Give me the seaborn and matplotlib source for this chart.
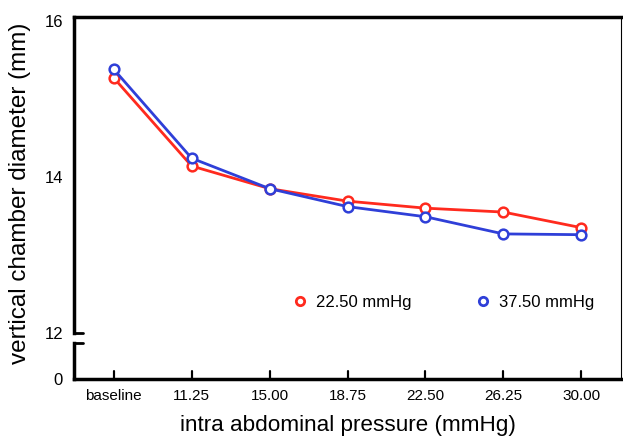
import pandas as pd
import matplotlib.pyplot as plt
import matplotlib
import seaborn as sns
from matplotlib.lines import Line2D

pressures = ["baseline", "11.25", "15.00", "18.75", "22.50", "26.25", "30.00"]
diam_22 = [15.27, 14.14, 13.85, 13.69, 13.60, 13.55, 13.35]  # 22.50 mmHg group
diam_37 = [15.38, 14.24, 13.85, 13.62, 13.49, 13.27, 13.26]  # 37.50 mmHg group
groups = ["22.50 mmHg", "37.50 mmHg"]

red = "#ff2a1e"
blue = "#2f3fd8"

df = pd.concat([
    pd.DataFrame({"pressure": pressures, "diameter": diam_22, "group": groups[0]}),
    pd.DataFrame({"pressure": pressures, "diameter": diam_37, "group": groups[1]}),
])

sns.set_style("white")
matplotlib.rcParams.update({
    "font.family": ["Liberation Sans", "DejaVu Sans"],
    "text.color": "black",
    "axes.labelcolor": "black",
    "xtick.color": "black",
    "ytick.color": "black",
    "xtick.bottom": True,
    "xtick.direction": "in",
    "xtick.major.size": 6,
    "xtick.major.width": 1.5,
})

fig = plt.figure(figsize=(6.23, 4.42), dpi=100)
ax_lo = fig.add_axes([74/623, 1-379/442, 547/623, 36/442])
ax = fig.add_axes([74/623, 1-333/442, 547/623, 316/442])

# lower stub of the broken y axis, only the 0 tick
ax_lo.set_ylim(0, 1)
ax_lo.set_yticks([0])
ax_lo.set_xticks(range(len(pressures)))
ax_lo.set_xticklabels(pressures)
ax_lo.set_xlim(-0.51, 6.51)
ax_lo.tick_params(axis="x", bottom=True, direction="in", length=6, width=1.5,
                  labelsize=11, pad=7)
ax_lo.tick_params(axis="y", left=False, length=0, labelsize=12, pad=8)
ax_lo.spines["left"].set_linewidth(2.5)
ax_lo.spines["bottom"].set_linewidth(2.5)
ax_lo.spines["left"].set_color("black")
ax_lo.spines["bottom"].set_color("black")
ax_lo.spines["top"].set_visible(False)
ax_lo.spines["right"].set_visible(False)
ax_lo.set_xlabel("intra abdominal pressure (mmHg)", fontsize=16.2, labelpad=9)

sns.lineplot(data=df, x="pressure", y="diameter", hue="group", palette=[red, blue],
             marker="o", markersize=7, markerfacecolor="white", markeredgewidth=1.8,
             linewidth=2, ax=ax, legend=False)
for line, c in zip(ax.lines, [red, blue]):
    line.set_markeredgecolor(c)

ax.set_ylim(12, 16.05)
ax.set_yticks([12, 14, 16])
ax.set_xlim(-0.51, 6.51)
ax.set_xlabel("")
ax.set_ylabel("")
ax.tick_params(axis="y", left=False, length=0, labelsize=12, pad=8)
ax.tick_params(axis="x", bottom=False, labelbottom=False)
ax.spines["bottom"].set_visible(False)
ax.spines["right"].set_visible(False)
ax.spines["left"].set_linewidth(2.5)
ax.spines["top"].set_linewidth(2.5)
ax.spines["left"].set_color("black")
ax.spines["top"].set_color("black")

# break marks and thin right border, in figure coordinates
x0, x1 = 74/623, 83/623
fig.add_artist(Line2D([x0, x1], [1-333/442, 1-333/442], color="black", lw=2))
fig.add_artist(Line2D([x0, x1], [1-343/442, 1-343/442], color="black", lw=2))
fig.add_artist(Line2D([621/623, 621/623], [1-379/442, 1-17/442], color="black", lw=0.8))

# inward x tick marks, placed through the lower axes' x scale
to_fig = fig.transFigure.inverted()
for i in range(len(pressures)):
    xf = to_fig.transform(ax_lo.transData.transform((i, 0)))[0]
    fig.add_artist(Line2D([xf, xf], [1-379/442, 1-371/442], color="black", lw=1.5))

fig.text(20/623, 1-193/442, "vertical chamber diameter (mm)", rotation=90,
         ha="center", va="center", fontsize=17.5)

handles = [Line2D([], [], ls="", marker="o", markersize=6, markerfacecolor="white",
                  markeredgecolor=c, markeredgewidth=2) for c in [red, blue]]
ax.legend(handles, groups, loc="center", bbox_to_anchor=(0.675, 0.098), ncol=2,
          frameon=False, fontsize=12, handlelength=1, handletextpad=0.45,
          columnspacing=3.8)

plt.savefig("out.png", dpi=100)
